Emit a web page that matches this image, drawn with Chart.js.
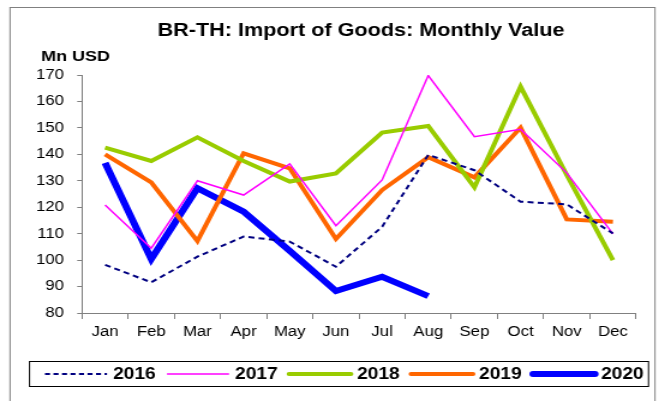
<!DOCTYPE html>
<html>
<head>
<meta charset="utf-8">
<script src="https://cdn.jsdelivr.net/npm/chart.js@4"></script>
<style>
  html, body { margin: 0; padding: 0; background: #fff; overflow: hidden; }
  /* chart is laid out narrow and widened to the page */
  #wrap { width: 554px; height: 401px; position: relative; transform: scaleX(1.2004); transform-origin: 0 0; }
</style>
</head>
<body>
<div id="wrap"><canvas id="grafico"></canvas></div>
<script>
// Import of goods, monthly value (Mn USD)
var meses = ['Jan', 'Feb', 'Mar', 'Apr', 'May', 'Jun', 'Jul', 'Aug', 'Sep', 'Oct', 'Nov', 'Dec'];
var anios = ['2016', '2017', '2018', '2019', '2020'];
var v2016 = [98.2, 91.6, 101.3, 108.9, 107.0, 97.5, 112.6, 139.8, 134.0, 122.1, 121.1, 110.1];
var v2017 = [120.8, 104.5, 130.0, 124.6, 136.4, 113.0, 130.3, 169.8, 146.7, 149.5, 133.0, 109.9];
var v2018 = [142.5, 137.5, 146.4, 137.5, 129.7, 132.8, 148.2, 150.7, 127.5, 165.6, 132.2, 100.0];
var v2019 = [140.0, 129.4, 107.2, 140.4, 134.7, 108.0, 126.5, 138.9, 131.3, 150.1, 115.4, 114.5];
var v2020 = [136.8, 100.4, 127.2, 118.3, 103.5, 88.3, 93.7, 86.4];
var ticksY = [80, 90, 100, 110, 120, 130, 140, 150, 160, 170];

var fuente = '"Liberation Sans", Arial, sans-serif';
var K = 1.2004; // horizontal stretch applied by the wrapper

function serie(label, data, color, ancho, dash) {
    return {
        label: label,
        data: data,
        borderColor: color,
        backgroundColor: color,
        borderWidth: ancho,
        borderDash: dash || [],
        pointRadius: 0,
        tension: 0,
        fill: false,
        borderCapStyle: 'butt',
        borderJoinStyle: 'miter'
    };
}

// frame, title, unit label and legend box
var marco = {
    id: 'marco',
    beforeDraw: function (chart) {
        var ctx = chart.ctx;
        ctx.save();
        ctx.fillStyle = '#fff';
        ctx.fillRect(0, 0, chart.width, chart.height);
        ctx.strokeStyle = '#808080';
        ctx.lineWidth = 1;
        ctx.strokeRect(10 / K, 7.5, 645 / K, 420);
        ctx.restore();
    },
    afterDraw: function (chart) {
        var ctx = chart.ctx;
        ctx.save();
        ctx.fillStyle = '#000';
        ctx.textBaseline = 'middle';
        ctx.textAlign = 'center';
        ctx.font = 'bold 18px ' + fuente;
        ctx.fillText('BR-TH: Import of Goods: Monthly Value', 361 / K, 31.5);
        ctx.textAlign = 'left';
        ctx.font = 'bold 15px ' + fuente;
        ctx.fillText('Mn USD', 41 / K, 56.5);

        // legend
        ctx.strokeStyle = '#000';
        ctx.lineWidth = 1;
        ctx.strokeRect(29.5 / K, 361.5, 619 / K, 25);
        chart.data.datasets.forEach(function (ds, i) {
            var x = (45 + i * 122) / K;
            var y = 374;
            ctx.beginPath();
            ctx.strokeStyle = ds.borderColor;
            ctx.lineWidth = ds.borderWidth;
            ctx.lineCap = ds.borderWidth > 2 ? 'round' : 'butt';
            ctx.setLineDash(ds.borderDash.map(function (d) { return d / K; }));
            ctx.moveTo(x, y);
            ctx.lineTo(x + 62 / K, y);
            ctx.stroke();
            ctx.setLineDash([]);
            ctx.fillStyle = '#000';
            ctx.font = 'bold 16px ' + fuente;
            ctx.textAlign = 'left';
            ctx.fillText(ds.label, x + 68 / K, y + 1);
        });
        ctx.restore();
    }
};

new Chart(document.getElementById('grafico'), {
    type: 'line',
    data: {
        labels: meses,
        datasets: [
            serie(anios[0], v2016, '#000080', 2, [5, 3.5]),
            serie(anios[1], v2017, '#ff00ff', 1.5),
            serie(anios[2], v2018, '#99cc00', 4),
            serie(anios[3], v2019, '#ff6600', 4),
            serie(anios[4], v2020, '#0000ff', 6)
        ]
    },
    options: {
        responsive: true,
        maintainAspectRatio: false,
        animation: false,
        layout: { padding: { top: 75, right: 554 - 636 / K, left: 0, bottom: 0 } },
        plugins: {
            legend: { display: false },
            title: { display: false },
            tooltip: { enabled: false }
        },
        scales: {
            x: {
                offset: true,
                grid: { offset: true, drawOnChartArea: false, drawTicks: true, tickLength: 6, color: '#808080' },
                border: { color: '#808080', width: 1 },
                ticks: { color: '#000', padding: 5, font: { family: fuente, size: 14 }, maxRotation: 0 },
                afterFit: function (s) { s.height = 88; }
            },
            y: {
                min: 80,
                max: 170,
                afterBuildTicks: function (s) { s.ticks = ticksY.map(function (v) { return { value: v }; }); },
                grid: { drawOnChartArea: false, drawTicks: true, tickLength: 4, color: '#808080' },
                border: { color: '#808080', width: 1 },
                ticks: { color: '#000', padding: 11, font: { family: fuente, size: 14 } },
                afterFit: function (s) { s.width = 82 / K; }
            }
        }
    },
    plugins: [marco]
});
</script>
</body>
</html>
